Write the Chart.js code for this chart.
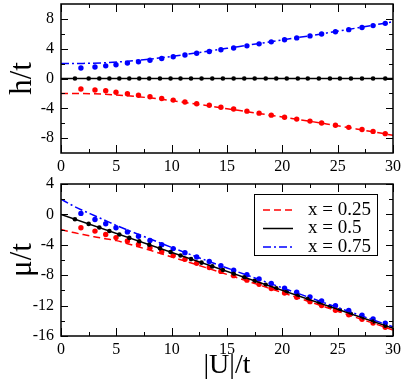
<!DOCTYPE html>
<html>
<head>
<meta charset="utf-8">
<title>h/t and mu/t versus |U|/t</title>
<script src="https://cdn.jsdelivr.net/npm/chart.js@4.4.1/dist/chart.umd.min.js"></script>
<style>
	html, body { margin: 0; padding: 0; background: #fff; }
	#wrap { position: relative; width: 403px; height: 381px; }
	#wrap canvas { position: absolute; left: 0; top: 0; }
</style>
</head>
<body>
<div id="wrap">
	<canvas id="h-chart" width="403" height="381"></canvas>
	<canvas id="mu-chart" width="403" height="381"></canvas>
</div>
<script>
	'use strict';

	// Tick values
	var uTicks = [0, 5, 10, 15, 20, 25, 30];
	var uMinor = [2.5, 7.5, 12.5, 17.5, 22.5, 27.5];
	var hTicks = [-8, -4, 0, 4, 8];
	var hMinor = [-6, -2, 2, 6];
	var muTicks = [-16, -12, -8, -4, 0, 4];
	var muMinor = [-14, -10, -6, -2, 2];

	// Legend labels
	var legendLabels = ['x = 0.25', 'x = 0.5', 'x = 0.75'];

	// Curves (lines)
	var hLineU = [0, 2, 4, 6, 8, 10, 12, 15, 18, 21, 24, 27, 30];
	var hBlueLine = [2.0, 2.03, 2.12, 2.32, 2.6, 2.97, 3.38, 4.05, 4.72, 5.4, 6.1, 6.85, 7.62];
	var hRedLine = [-2.0, -2.03, -2.12, -2.32, -2.6, -2.97, -3.38, -4.05, -4.72, -5.4, -6.1, -6.85, -7.62];
	var hBlackLineU = [0, 30];
	var hBlackLine = [0, 0];

	var muLineU = [0, 1, 2, 3, 4, 5, 6, 8, 10, 12, 15, 18, 21, 24, 27, 30];
	var muBlueLine = [2.0, 1.2, 0.5, -0.15, -0.8, -1.45, -2.05, -3.2, -4.35, -5.45, -7.05, -8.62, -10.18, -11.73, -13.27, -14.8];
	var muRedLine = [-2.0, -2.35, -2.65, -2.95, -3.2, -3.45, -3.85, -4.7, -5.6, -6.5, -7.9, -9.33, -10.78, -12.25, -13.72, -15.2];
	var muBlackLineU = [0, 30];
	var muBlackLine = [0, -15];

	// Points (symbols)
	var dotU = [1.8, 3.07, 4.04, 4.97, 6.0, 7.0, 8.04, 9.1, 10.14, 11.2, 12.26, 13.4, 14.45,
		15.6, 16.8, 17.9, 19.0, 20.2, 21.3, 22.5, 23.55, 24.8, 26.0, 27.2, 28.2, 29.3];
	var hBlueDots = [1.4, 1.54, 1.7, 1.85, 2.07, 2.24, 2.45, 2.68, 2.92, 3.16, 3.38, 3.62, 3.85,
		4.1, 4.38, 4.65, 4.92, 5.2, 5.45, 5.72, 5.98, 6.28, 6.56, 6.85, 7.1, 7.4];
	var hRedDots = [-1.4, -1.55, -1.65, -1.85, -2.05, -2.25, -2.45, -2.68, -2.9, -3.15, -3.38, -3.6, -3.85,
		-4.1, -4.38, -4.65, -4.92, -5.2, -5.45, -5.72, -5.98, -6.28, -6.56, -6.85, -7.1, -7.4];
	var muBlueDots = [0.13, -0.68, -1.24, -1.76, -2.3, -2.87, -3.44, -3.98, -4.5, -5.05, -5.6, -6.2, -6.75,
		-7.35, -7.95, -8.5, -9.08, -9.7, -10.25, -10.85, -11.4, -12.02, -12.63, -13.25, -13.75, -14.3];
	var muRedDots = [-1.76, -2.2, -2.65, -3.05, -3.5, -3.95, -4.4, -4.9, -5.4, -5.9, -6.42, -6.98, -7.5,
		-8.06, -8.65, -9.2, -9.75, -10.35, -10.9, -11.48, -12.0, -12.62, -13.22, -13.8, -14.3, -14.85];

	var blackU = [1.26, 2.5, 3.46, 4.37, 5.27, 6.17, 7.07, 7.97, 8.94, 9.9, 10.8, 11.75, 12.7, 13.67, 14.63,
		15.6, 16.56, 17.5, 18.5, 19.45, 20.4, 21.4, 22.3, 23.3, 24.3, 25.2, 26.2, 27.2, 28.2, 29.3];
	var hBlackDots = [0, 0, 0, 0, 0, 0, 0, 0, 0, 0, 0, 0, 0, 0, 0,
		0, 0, 0, 0, 0, 0, 0, 0, 0, 0, 0, 0, 0, 0, 0];
	var muBlackDots = [-0.63, -1.25, -1.73, -2.19, -2.64, -3.09, -3.54, -3.99, -4.47, -4.95, -5.4, -5.88, -6.35, -6.84, -7.32,
		-7.8, -8.28, -8.75, -9.25, -9.73, -10.2, -10.7, -11.15, -11.65, -12.15, -12.6, -13.1, -13.6, -14.1, -14.65];

	var RED = '#ff0000';
	var BLUE = '#0000ff';
	var BLACK = '#000000';
	var DASH_RED = [7, 4];
	var DASH_BLUE = [8, 3, 2, 3];

	Chart.defaults.font.family = "'Liberation Serif', 'DejaVu Serif', serif";
	Chart.defaults.color = '#000';

	/**
	 * Zip x and y arrays into points.
	 */
	function pts(xs, ys) {
		return xs.map(function(x, i) {
			return {x: x, y: ys[i]};
		});
	}

	function lineSet(xs, ys, color, dash, legendIndex) {
		return {
			data: pts(xs, ys),
			showLine: true,
			borderColor: color,
			borderWidth: 1.5,
			borderDash: dash,
			pointRadius: 0,
			fill: false,
			cubicInterpolationMode: 'monotone',
			legendIndex: legendIndex
		};
	}

	function dotSet(xs, ys, color, r) {
		return {
			data: pts(xs, ys),
			showLine: false,
			pointRadius: r,
			pointBackgroundColor: color,
			pointBorderWidth: 0
		};
	}

	/**
	 * Frame with inward ticks on all four sides.
	 */
	var frameTicks = {
		id: 'frameTicks',
		afterDatasetsDraw: function(chart, args, opts) {
			var ctx = chart.ctx;
			var a = chart.chartArea;
			var xs = chart.scales.x;
			var ys = chart.scales.y;

			ctx.save();
			ctx.strokeStyle = '#000';
			ctx.lineWidth = 1;
			ctx.beginPath();
			function xTick(v, len) {
				var px = Math.round(xs.getPixelForValue(v)) + 0.5;
				ctx.moveTo(px, a.bottom); ctx.lineTo(px, a.bottom - len);
				ctx.moveTo(px, a.top); ctx.lineTo(px, a.top + len);
			}
			function yTick(v, len) {
				var py = Math.round(ys.getPixelForValue(v)) + 0.5;
				ctx.moveTo(a.left, py); ctx.lineTo(a.left + len, py);
				ctx.moveTo(a.right, py); ctx.lineTo(a.right - len, py);
			}
			opts.xMajor.forEach(function(v) { xTick(v, 8); });
			opts.xMinor.forEach(function(v) { xTick(v, 4); });
			opts.yMajor.forEach(function(v) { yTick(v, 7); });
			opts.yMinor.forEach(function(v) { yTick(v, 4); });
			ctx.stroke();

			ctx.lineWidth = 1.5;
			ctx.strokeRect(a.left, a.top, a.right - a.left, a.bottom - a.top);
			ctx.restore();
		}
	};

	/**
	 * Boxed legend with line samples, top right of the plot.
	 */
	var lineLegend = {
		id: 'lineLegend',
		afterDraw: function(chart, args, opts) {
			if (!opts.labels) {
				return;
			}
			var ctx = chart.ctx;
			var a = chart.chartArea;
			var bx = a.right - 139, by = a.top + 10, bw = 123, bh = 61;
			var items = chart.data.datasets.filter(function(d) {
				return d.legendIndex !== undefined;
			});

			ctx.save();
			ctx.fillStyle = '#fff';
			ctx.fillRect(bx, by, bw, bh);
			ctx.strokeStyle = '#000';
			ctx.lineWidth = 1;
			ctx.strokeRect(bx + 0.5, by + 0.5, bw, bh);

			ctx.font = "19px 'Liberation Serif', 'DejaVu Serif', serif";
			ctx.textBaseline = 'middle';
			ctx.textAlign = 'left';
			items.forEach(function(d) {
				var y = by + 16 + d.legendIndex * 18.5;
				ctx.strokeStyle = d.borderColor;
				ctx.lineWidth = 1.5;
				ctx.setLineDash(d.borderDash || []);
				ctx.beginPath();
				ctx.moveTo(bx + 9, y);
				ctx.lineTo(bx + 39, y);
				ctx.stroke();
				ctx.setLineDash([]);
				ctx.fillStyle = '#000';
				ctx.fillText(opts.labels[d.legendIndex], bx + 54, y);
			});
			ctx.restore();
		}
	};

	function xAxis(height, title) {
		return {
			type: 'linear',
			min: 0,
			max: 30,
			grid: {display: false, drawTicks: false},
			border: {display: false},
			afterBuildTicks: function(s) {
				s.ticks = uTicks.map(function(v) { return {value: v}; });
			},
			ticks: {font: {size: 16}, padding: 4, maxRotation: 0, autoSkip: false},
			title: title ? {display: true, text: title, font: {size: 28, lineHeight: 1}, padding: {top: 0, bottom: 1}} : {display: false},
			afterFit: function(s) {
				s.height = height;
				s.paddingLeft = 0;
				s.paddingRight = 0;
			}
		};
	}

	function yAxis(min, max, ticks, title) {
		return {
			type: 'linear',
			min: min,
			max: max,
			grid: {display: false, drawTicks: false},
			border: {display: false},
			afterBuildTicks: function(s) {
				s.ticks = ticks.map(function(v) { return {value: v}; });
			},
			ticks: {font: {size: 16}, padding: 7, autoSkip: false},
			title: {display: true, text: title, font: {size: 31, lineHeight: 1}, padding: {top: 7, bottom: 0}},
			afterFit: function(s) {
				s.width = 61;
				s.paddingTop = 0;
				s.paddingBottom = 0;
			}
		};
	}

	function baseOptions(padding, xA, yA, plugins) {
		return {
			responsive: false,
			animation: false,
			layout: {padding: padding},
			scales: {x: xA, y: yA},
			plugins: Object.assign({
				legend: {display: false},
				tooltip: {enabled: false}
			}, plugins)
		};
	}

	// Upper panel: h/t
	new Chart(document.getElementById('h-chart'), {
		type: 'scatter',
		data: {
			datasets: [
				lineSet(hBlackLineU, hBlackLine, BLACK, []),
				lineSet(hLineU, hRedLine, RED, DASH_RED),
				lineSet(hLineU, hBlueLine, BLUE, DASH_BLUE),
				dotSet(blackU, hBlackDots, BLACK, 2.3),
				dotSet(dotU, hRedDots, RED, 2.7),
				dotSet(dotU, hBlueDots, BLUE, 2.7)
			]
		},
		options: baseOptions({left: 0, top: 2, right: 10, bottom: 198},
			xAxis(30, null),
			yAxis(-10, 10, hTicks, 'h/t'),
			{frameTicks: {xMajor: uTicks, xMinor: uMinor, yMajor: hTicks, yMinor: hMinor}}),
		plugins: [frameTicks]
	});

	// Lower panel: mu/t
	new Chart(document.getElementById('mu-chart'), {
		type: 'scatter',
		data: {
			datasets: [
				lineSet(muLineU, muRedLine, RED, DASH_RED, 0),
				lineSet(muBlackLineU, muBlackLine, BLACK, [], 1),
				lineSet(muLineU, muBlueLine, BLUE, DASH_BLUE, 2),
				dotSet(blackU, muBlackDots, BLACK, 2.3),
				dotSet(dotU, muRedDots, RED, 2.7),
				dotSet(dotU, muBlueDots, BLUE, 2.7)
			]
		},
		options: baseOptions({left: 0, top: 184, right: 10, bottom: 0},
			xAxis(45, '|U|/t'),
			yAxis(-16, 4, muTicks, 'μ/t'),
			{
				frameTicks: {xMajor: uTicks, xMinor: uMinor, yMajor: muTicks, yMinor: muMinor},
				lineLegend: {labels: legendLabels}
			}),
		plugins: [frameTicks, lineLegend]
	});
</script>
</body>
</html>
